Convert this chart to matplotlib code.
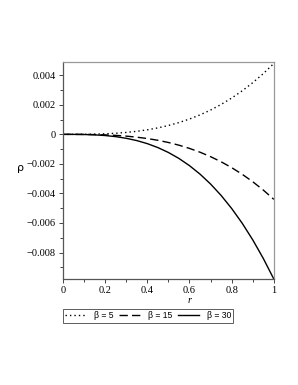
import matplotlib
matplotlib.use("Agg")
import matplotlib.pyplot as plt
from matplotlib.ticker import MultipleLocator

plt.rcParams['font.family'] = ['Liberation Serif', 'DejaVu Serif']

# values
r = [0.0, 0.05, 0.1, 0.15, 0.2, 0.25, 0.3, 0.35, 0.4, 0.45, 0.5,
     0.55, 0.6, 0.65, 0.7, 0.75, 0.8, 0.85, 0.9, 0.95, 1.0]
rho_b5 = [0, 0.0000006, 0.0000048, 0.0000162, 0.0000384, 0.000075, 0.00013,
          0.000206, 0.000307, 0.000437, 0.0006, 0.000799, 0.001037, 0.001318,
          0.001646, 0.002025, 0.002458, 0.002948, 0.003499, 0.004115, 0.0048]
rho_b15 = [0, -0.00000055, -0.0000044, -0.0000149, -0.0000352, -0.0000688,
           -0.000119, -0.000189, -0.000282, -0.000401, -0.00055, -0.000732,
           -0.00095, -0.001208, -0.001509, -0.001856, -0.002253, -0.002702,
           -0.003208, -0.003772, -0.0044]
rho_b30 = [0, -0.0000012, -0.0000098, -0.0000331, -0.0000784, -0.000153,
           -0.000265, -0.00042, -0.000627, -0.000893, -0.001225, -0.00163,
           -0.002117, -0.002691, -0.003361, -0.004134, -0.005018, -0.006018,
           -0.007144, -0.008402, -0.0098]
labels = ["β = 5", "β = 15", "β = 30"]

fig = plt.figure(figsize=(2.98, 3.85), dpi=100)
ax = fig.add_axes([0.211, 0.275, 0.708, 0.564])

ax.plot(r, rho_b5, color="black", lw=1.0, linestyle=(0, (1, 2.2)), label=labels[0])
ax.plot(r, rho_b15, color="black", lw=1.0, linestyle=(0, (6, 3)), label=labels[1])
ax.plot(r, rho_b30, color="black", lw=1.0, label=labels[2])

ax.set_xlim(0, 1)
ax.set_ylim(-0.0098, 0.0049)
ax.xaxis.set_minor_locator(MultipleLocator(0.1))
ax.yaxis.set_minor_locator(MultipleLocator(0.001))
ax.set_xticks([0, 0.2, 0.4, 0.6, 0.8, 1.0])
ax.set_xticklabels(["0", "0.2", "0.4", "0.6", "0.8", "1"])
yt = [-0.008, -0.006, -0.004, -0.002, 0, 0.002, 0.004]
ax.set_yticks(yt)
ax.set_yticklabels(["\u22120.008", "\u22120.006", "\u22120.004", "\u22120.002",
                    "0", "0.002", "0.004"])
ax.tick_params(which="major", length=3, width=0.7, labelsize=7.5, color="#444444", pad=2)
ax.tick_params(which="minor", length=2, width=0.7, color="#444444")

for s in ["left", "bottom"]:
    ax.spines[s].set_color("#555555")
for s in ["top", "right"]:
    ax.spines[s].set_color("#999999")
for s in ax.spines.values():
    s.set_linewidth(0.9)

ax.set_xlabel("r", fontsize=7.5, style="italic", labelpad=2)
ax.xaxis.set_label_coords(0.6, -0.08)
ax.set_ylabel("ρ", fontsize=8, rotation=0, family=["DejaVu Sans"])
ax.yaxis.set_label_coords(-0.2, 0.49)

leg = ax.legend(loc="upper left", bbox_to_anchor=(0.0, -0.137), ncol=3,
                prop={"family": ["Liberation Sans", "DejaVu Sans"], "size": 6.2},
                frameon=True, fancybox=False, handlelength=2.4,
                handletextpad=0.9, columnspacing=0.7, borderpad=0.3,
                borderaxespad=0)
leg.get_frame().set_edgecolor("#333333")
leg.get_frame().set_linewidth(0.7)

fig.savefig("out.png", dpi=100)
